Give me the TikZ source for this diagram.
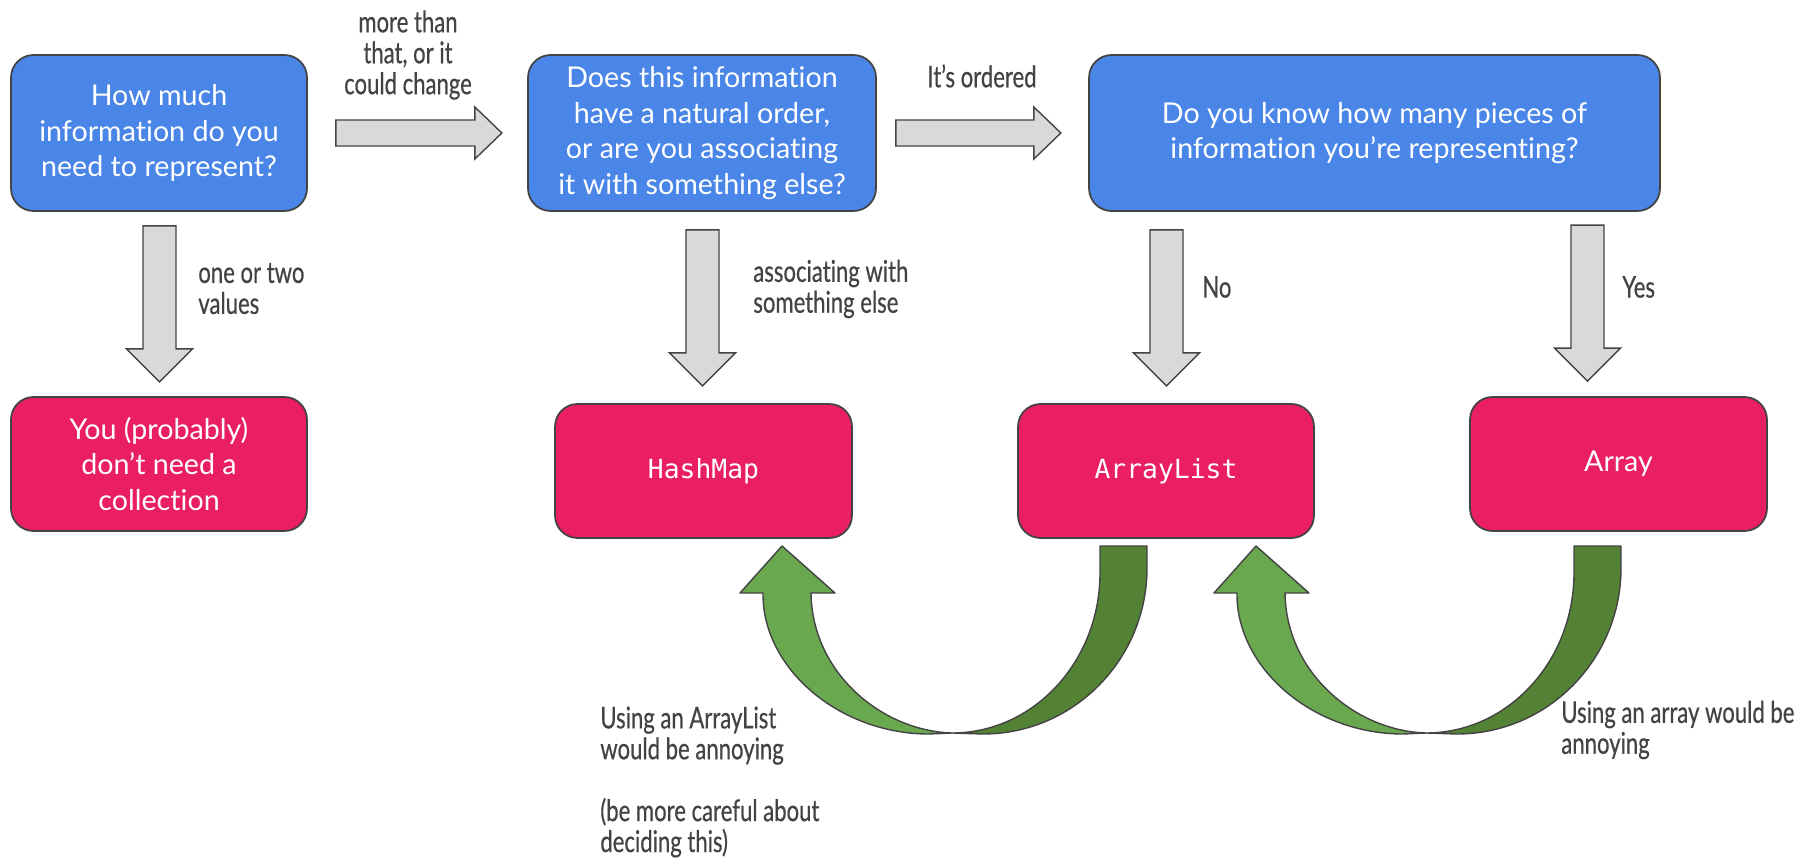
\documentclass[tikz,border=0pt]{standalone}
\usepackage{fontspec}
\setmainfont{Lato}[Ligatures=NoCommon]
\newfontfamily\notefont{Lato}[FakeStretch=0.74, FakeBold=0.5, Ligatures=NoCommon]
\newfontfamily\codefont{DejaVu Sans Mono}
\usepackage{tikz}
\usetikzlibrary{positioning, calc}
\definecolor{qblue}{HTML}{4A86E8}
\definecolor{apink}{HTML}{E91E63}
\definecolor{edgegrey}{HTML}{434343}
\definecolor{arrowgrey}{HTML}{D9D9D9}
\definecolor{lightgreen}{HTML}{6AA84F}
\definecolor{darkgreen}{HTML}{548235}
\tikzset{
    box/.style={draw=edgegrey, line width=1pt, rounded corners=0.45cm, text=white,
        align=center, inner sep=0pt, font=\fontsize{16.3}{20.4}\selectfont},
    question/.style={box, fill=qblue, minimum height=3.12cm},
    answer/.style={box, fill=apink, minimum height=2.68cm},
    code/.style={font=\codefont\fontsize{15}{18}\selectfont},
    note/.style={text=edgegrey, inner sep=0pt, font=\notefont\fontsize{17}{17.6}\selectfont},
    arrowbody/.style={draw=edgegrey, line width=0.8pt, fill=arrowgrey, line join=miter},
    greenbody/.style={draw=edgegrey, line width=0.8pt, line join=round},
    pics/rarrow/.style={code={
        \draw[arrowbody] (0,-13) -- ({#1-27},-13) -- ({#1-27},-26) -- (#1,0)
            -- ({#1-27},26) -- ({#1-27},13) -- (0,13) -- cycle;
    }},
    pics/darrow/.style={code={
        \draw[arrowbody] (0,-16.5) -- ({#1-33},-16.5) -- ({#1-33},-33) -- (#1,0)
            -- ({#1-33},33) -- ({#1-33},16.5) -- (0,16.5) -- cycle;
    }},
    pics/uturn/.style={code={
        % back half, from the tail down to the turning point
        \draw[greenbody, fill=darkgreen] (148,-187) -- (195,-187) -- (195,-165)
            .. controls (195,-74) and (122,1) .. (31,1) -- (0,0)
            .. controls (82,0) and (148,-72) .. (148,-160) -- cycle;
        % front half, up to the head
        \draw[greenbody, fill=lightgreen] (-23,1) .. controls (-113,1) and (-190,-65) .. (-189,-140)
            -- (-212,-140) -- (-170,-187) -- (-117,-140) -- (-141,-140)
            .. controls (-140,-60) and (-70,-2) .. (0,0) -- cycle;
    }},
}

\begin{document}
\begin{tikzpicture}[x=0.02cm, y=-0.02cm]
    \useasboundingbox (0,0) rectangle (1796,861);

    % questions
    \node[question, minimum width=5.92cm] (size) at (159,133) {How much\\information do you\\need to represent?};
    \node[question, minimum width=6.96cm] (order) at (702,133) {Does this information\\have a natural order,\\or are you associating\\it with something else?};
    \node[question, minimum width=11.42cm] (count) at (1374.5,133) {Do you know how many pieces of\\information you’re representing?};

    % answers
    \node[answer, minimum width=5.92cm] (none) at (159,464) {You (probably)\\don’t need a\\collection};
    \node[answer, code, minimum width=5.94cm] (hashmap) at (703.5,471) {HashMap};
    \node[answer, code, minimum width=5.92cm] (arraylist) at (1166,471) {ArrayList};
    \node[answer, minimum width=5.94cm] (array) at (1618.5,464) {\raisebox{-2pt}{Array}};

    % block arrows
    \pic at ($(size.east)+(28,0)$) {rarrow=166};
    \pic at ($(order.east)+(19,0)$) {rarrow=165};
    \pic[rotate=-90] at ($(size.south)+(0.5,14)$) {darrow=156};
    \pic[rotate=-90] at ($(order.south)+(0.5,18)$) {darrow=156};
    \pic[rotate=-90] at ($(arraylist.north |- count.south)+(0.5,18)$) {darrow=156};
    \pic[rotate=-90] at ($(array.north)+(-31,-171)$) {darrow=156};

    % labels
    \node[note, align=center] (morethan) at (408,55) {more than\\that, or it\\could change};
    \node[note] (ordered) at (982,76) {It’s ordered};
    \node[note, anchor=west, align=left] (fewvalues) at (198,288.5) {one or two\\values};
    \node[note, anchor=west, align=left] (assoc) at (753,289) {associating with\\something else};
    \node[note, anchor=west] (no) at (1202,287) {No};
    \node[note, anchor=west] (yes) at (1622,287) {Yes};

    % u-turns back
    \coordinate (turn1) at (952,733);
    \coordinate (turn2) at (1426,733);
    \pic at (turn1) {uturn};
    \pic at (turn2) {uturn};

    \node[note, anchor=west, align=left] (alnote) at (600,782) {Using an ArrayList\\would be annoying\\[17.6pt](be more careful about\\deciding this)};
    \node[note, anchor=west, align=left] (arnote) at (1561,730) {Using an array would be\\annoying};
\end{tikzpicture}
\end{document}
